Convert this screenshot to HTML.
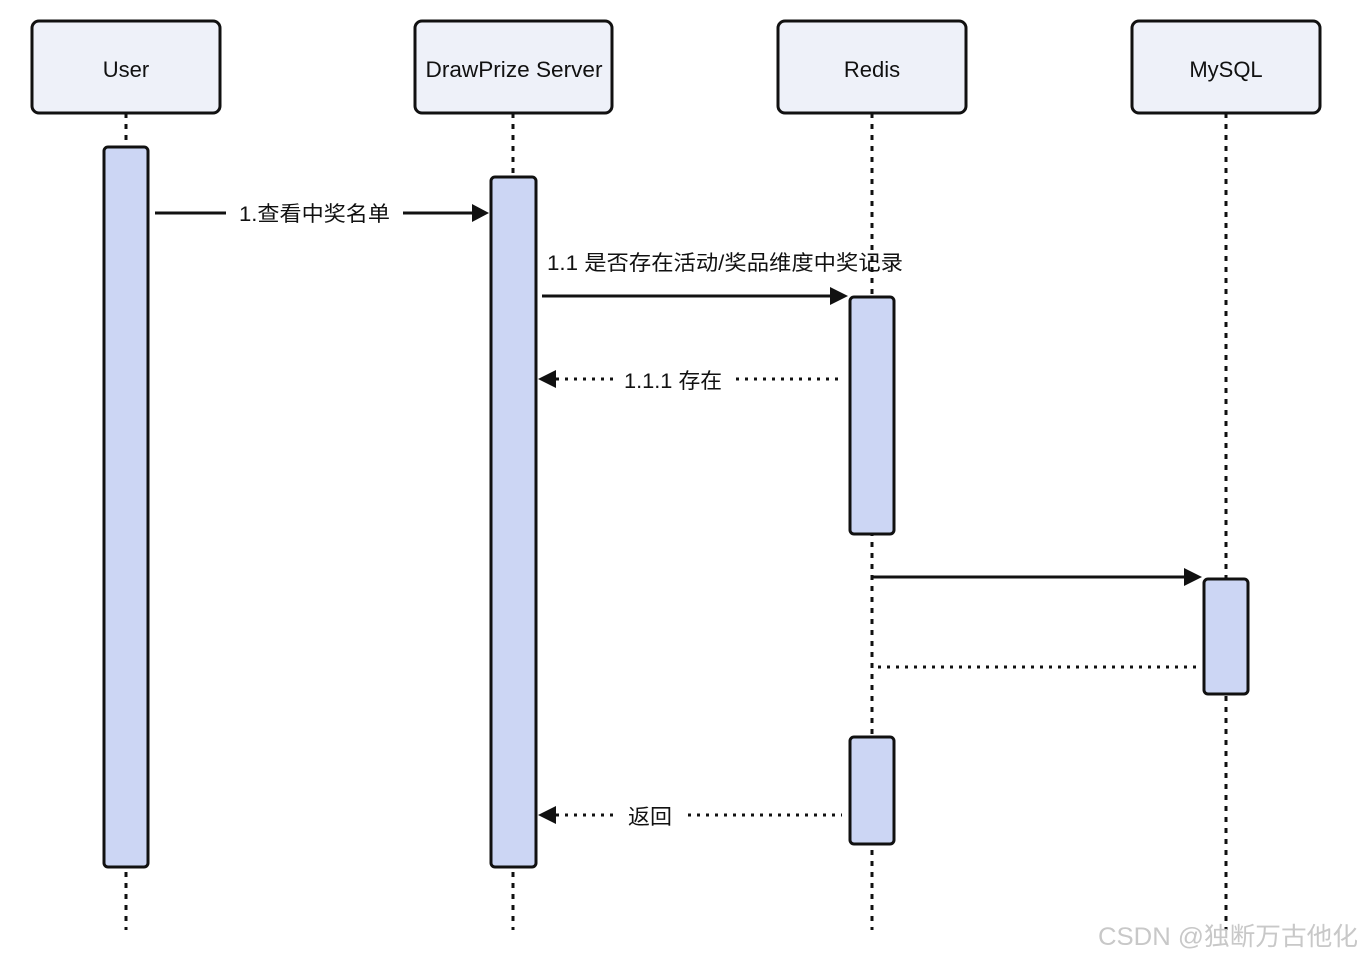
<!DOCTYPE html>
<html><head><meta charset="utf-8"><style>html,body{margin:0;padding:0;background:#fff}svg{display:block}</style></head>
<body>
<svg width="1362" height="959" viewBox="0 0 1362 959" xmlns="http://www.w3.org/2000/svg" font-family="'Liberation Sans','Noto Sans CJK SC',sans-serif">
<g stroke="#111" stroke-width="3" stroke-dasharray="5,6">
<line x1="126" y1="113" x2="126" y2="930"/>
<line x1="513" y1="113" x2="513" y2="930"/>
<line x1="872" y1="113" x2="872" y2="930"/>
<line x1="1226" y1="113" x2="1226" y2="930"/>
</g>
<g fill="#eef1f9" stroke="#111" stroke-width="3">
<rect x="32" y="21" width="188" height="92" rx="7"/>
<rect x="415" y="21" width="197" height="92" rx="7"/>
<rect x="778" y="21" width="188" height="92" rx="7"/>
<rect x="1132" y="21" width="188" height="92" rx="7"/>
</g>
<g font-size="22" text-anchor="middle" fill="#111">
<text x="126" y="77">User</text>
<text x="514" y="77" textLength="177" lengthAdjust="spacingAndGlyphs">DrawPrize Server</text>
<text x="872" y="77">Redis</text>
<text x="1226" y="77">MySQL</text>
</g>
<g fill="#ccd6f4" stroke="#111" stroke-width="3">
<rect x="104" y="147" width="44" height="720" rx="4"/>
<rect x="491" y="177" width="45" height="690" rx="4"/>
<rect x="850" y="297" width="44" height="237" rx="4"/>
<rect x="850" y="737" width="44" height="107" rx="4"/>
<rect x="1204" y="579" width="44" height="115" rx="4"/>
</g>
<g stroke="#111" stroke-width="3">
<line x1="155" y1="213" x2="226" y2="213"/>
<line x1="403" y1="213" x2="474" y2="213"/>
<line x1="542" y1="296" x2="832" y2="296"/>
<line x1="872" y1="577" x2="1186" y2="577"/>
</g>
<g stroke="#111" stroke-width="3" stroke-dasharray="3,6">
<line x1="556" y1="379" x2="614" y2="379"/>
<line x1="736" y1="379" x2="842" y2="379"/>
<line x1="878" y1="667" x2="1198" y2="667"/>
<line x1="556" y1="815" x2="614" y2="815"/>
<line x1="688" y1="815" x2="842" y2="815"/>
</g>
<g fill="#111">
<polygon points="489,213 472,204 472,222"/>
<polygon points="848,296 830,287 830,305"/>
<polygon points="1202,577 1184,568 1184,586"/>
<polygon points="538,379 556,370 556,388"/>
<polygon points="538,815 556,806 556,824"/>
</g>
<g font-size="21" fill="#111">
<text x="239" y="221" textLength="151" lengthAdjust="spacingAndGlyphs">1.查看中奖名单</text>
<text x="547" y="270" textLength="356" lengthAdjust="spacingAndGlyphs">1.1 是否存在活动/奖品维度中奖记录</text>
<text x="624" y="388" textLength="98" lengthAdjust="spacingAndGlyphs">1.1.1 存在</text>
<text x="628" y="824" textLength="44" lengthAdjust="spacingAndGlyphs">返回</text>
</g>
<text x="1098" y="945" font-size="25" fill="#c8c8c8" textLength="260" lengthAdjust="spacingAndGlyphs">CSDN @独断万古他化</text>
</svg>
</body></html>
